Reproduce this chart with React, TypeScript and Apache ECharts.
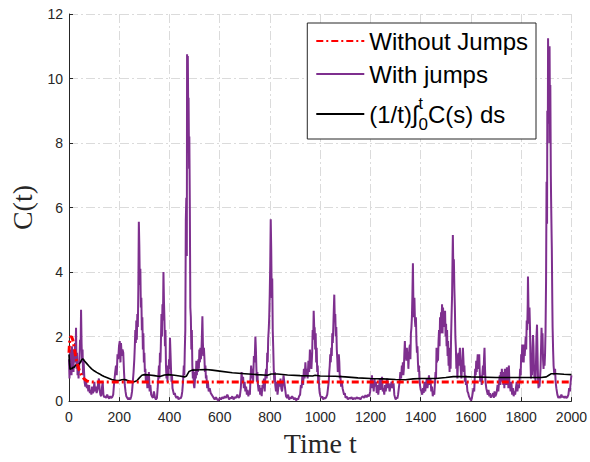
import React, { useEffect, useRef } from 'react';
import * as echarts from 'echarts';

// Time (t) and C(t) pairs
const withJumps: [number, number][] = [
[0,1.3],[2,0.7],[4,1.6],[6,0.9],[8,1.45],[10,0.8],[12,1.7],[14,1.0],[16,1.3],[18,0.9],[20,1.6],[22,1.2],[24,1.8],[26,1.3],[28,2.27],[30,1.0],[32,1.5],[34,0.8],[36,1.1],[38,0.7],[40,1.0],[42,1.4],[44,1.9],[46,1.6],[48,2.83],[50,1.8],[52,1.2],[54,1.6],[56,0.8],[58,1.3],[60,0.9],
[62,0.6],[65,0.45],[68,0.6],[71,0.4],[74,0.5],[77,0.3],[80,0.5],[83,0.25],[86,0.35],[89,0.2],[92,0.45],[95,0.25],[98,0.3],[101,0.6],[104,0.3],[107,0.45],[110,0.25],[113,0.35],[116,0.55],[119,0.7],[122,0.35],[125,0.2],[128,0.15],[131,0.4],[134,0.6],[137,0.2],[140,0.12],[144,0.15],[148,0.1],[152,0.2],[156,0.12],[160,0.08],[164,0.15],[168,0.1],[172,0.12],[176,0.2],[180,0.6],[184,0.9],[187,1.1],[190,0.8],[193,1.45],[196,1.3],[199,1.7],[202,1.86],[205,1.2],[207,1.8],[210,1.4],[213,1.6],[216,1.5],[219,0.9],[222,0.5],[225,0.3],[228,0.15],[232,0.1],[236,0.05],[240,0.1],[244,0.05],[248,0.15],[251,0.3],[254,0.6],[257,0.9],[260,1.3],[262,1.7],[264,2.2],[266,1.8],[268,2.5],[270,1.9],[272,2.7],[274,2.3],[276,3.5],[278,5.56],[280,4.8],[282,3.6],[284,4.1],[286,2.9],[288,3.2],[290,2.2],[292,2.6],[294,1.6],[296,2.1],[298,1.2],[300,1.5],[302,0.9],[304,1.0],[306,0.6],[309,0.8],[312,0.4],[315,0.6],[318,0.9],[321,0.3],[324,0.5],[327,0.2],[330,0.15],[334,0.1],[338,0.3],[342,0.12],[346,0.05],[350,0.1],[353,0.4],[356,0.8],[358,1.1],[360,0.7],[362,1.5],[364,1.2],[366,1.86],[368,2.7],[370,2.0],[372,3.0],[374,2.5],[376,4.0],[378,3.1],[380,2.5],[382,1.7],[384,2.2],[386,1.1],[388,0.7],[390,1.0],[392,0.6],[394,1.1],[396,0.8],[398,1.3],[400,1.0],[402,1.96],[404,1.5],[406,1.0],[408,0.6],[410,0.8],[412,0.4],[415,0.3],[418,0.2],[421,0.25],[424,0.15],[428,0.1],[432,0.15],[436,0.05],[440,0.1],[444,0.08],[448,0.15],[451,0.3],[454,0.6],[457,1.1],[459,0.8],[461,1.6],[463,2.2],[465,5.6],[467,6.3],[469,4.5],[470,10.75],[472,9.0],[473,10.7],[475,8.5],[476,9.4],[478,7.2],[479,8.2],[481,6.0],[483,2.9],[485,2.6],[487,1.6],[489,2.2],[491,1.1],[493,0.7],[495,1.0],[497,0.5],[499,0.4],[501,0.6],[503,0.9],[505,0.7],[507,1.25],[509,0.8],[511,1.1],[513,0.9],[515,1.3],[517,1.0],[519,1.6],[521,1.2],[523,1.65],[525,1.3],[527,1.5],[529,2.0],[531,2.63],[533,1.8],[535,1.4],[537,1.65],[539,1.35],[541,0.9],[543,1.1],[545,0.7],[547,0.8],[550,0.4],[553,0.6],[556,0.3],[560,0.4],[564,0.25],[568,0.2],[572,0.15],[576,0.1],[580,0.05],[585,0.12],[590,0.05],[595,0.02],[600,0.1],[605,0.05],[610,0.12],[615,0.08],[620,0.15],[625,0.1],[630,0.2],[633,0.15],[637,0.05],[641,0.1],[645,0.08],[650,0.15],[655,0.05],[660,0.12],[665,0.1],[670,0.2],[675,0.1],[680,0.15],[684,0.4],[687,0.9],[690,0.6],[693,0.75],[696,0.4],[699,0.6],[702,0.3],[705,0.45],[708,0.2],[711,0.35],[714,0.15],[717,0.3],[720,0.2],[722,0.6],[725,1.1],[728,0.7],[731,1.0],[733,0.6],[736,1.4],[739,1.2],[742,2.0],[744,1.6],[746,1.0],[748,0.6],[750,0.9],[752,0.5],[755,0.3],[758,0.5],[761,0.2],[764,0.4],[767,0.15],[770,0.5],[773,0.4],[776,0.7],[779,0.3],[782,0.8],[785,1.0],[787,0.7],[789,1.5],[791,1.2],[793,1.95],[795,2.2],[797,2.6],[799,3.3],[801,4.2],[803,5.64],[805,4.7],[807,3.2],[809,3.8],[811,2.2],[813,1.65],[815,1.0],[817,0.6],[819,0.9],[821,0.5],[824,0.3],[827,0.6],[830,0.2],[833,0.4],[836,0.6],[839,0.45],[842,0.7],[845,0.4],[848,0.3],[851,0.5],[854,0.8],[857,0.6],[860,0.4],[864,0.15],[868,0.1],[872,0.2],[876,0.05],[880,0.12],[884,0.08],[888,0.15],[892,0.1],[896,0.05],[900,0.1],[904,0.02],[908,0.08],[912,0.05],[916,0.15],[920,0.2],[923,0.5],[926,0.4],[929,0.8],[932,0.5],[935,1.0],[938,0.7],[941,1.2],[944,0.8],[947,1.0],[950,0.7],[953,1.25],[956,0.9],[959,1.6],[962,1.2],[965,1.0],[968,1.5],[970,2.2],[972,1.9],[974,2.8],[976,2.3],[978,2.27],[980,1.6],[982,2.1],[984,1.2],[986,1.65],[988,0.9],[990,1.1],[992,0.6],[994,0.8],[996,0.4],[998,0.25],[1001,0.15],[1004,0.1],[1008,0.15],[1012,0.05],[1016,0.1],[1020,0.08],[1024,0.12],[1028,0.2],[1031,0.4],[1034,0.6],[1036,0.9],[1038,1.1],[1040,1.45],[1042,1.2],[1044,1.65],[1046,1.4],[1048,2.1],[1050,1.8],[1052,2.27],[1054,2.8],[1056,3.3],[1058,2.5],[1060,2.7],[1062,2.0],[1064,2.3],[1066,1.6],[1068,1.3],[1070,0.9],[1072,1.1],[1074,1.45],[1076,1.2],[1078,0.7],[1080,0.8],[1083,0.45],[1086,0.6],[1089,0.4],[1092,0.3],[1095,0.2],[1098,0.25],[1101,0.1],[1105,0.15],
[1110,0.05],[1115,0.1],[1120,0.08],[1125,0.12],[1130,0.05],[1135,0.1],[1140,0.06],[1145,0.12],[1150,0.08],[1155,0.1],[1160,0.05],[1165,0.12],[1170,0.15],[1175,0.1],[1180,0.18],[1185,0.12],[1190,0.2],[1195,0.15],[1199,0.3],[1202,0.7],[1204,0.5],[1206,0.8],[1208,0.4],[1210,0.6],[1213,0.3],[1216,0.7],[1219,0.45],[1222,0.6],[1225,0.25],[1228,0.5],[1231,0.2],[1234,0.4],[1237,0.7],[1240,0.35],[1243,0.55],[1246,0.75],[1249,0.3],[1252,0.4],[1255,0.2],[1258,0.5],[1261,0.3],[1264,0.6],[1267,0.7],[1270,0.4],[1273,0.55],[1276,0.3],[1280,0.45],[1284,0.6],[1288,0.4],[1292,0.55],[1295,0.2],[1298,0.1],[1301,0.05],[1304,0.12],[1307,0.08],[1310,0.2],[1313,0.4],[1316,0.6],[1319,0.9],[1322,0.7],[1325,1.1],[1327,0.8],[1329,1.2],[1331,0.8],[1333,1.0],[1335,1.5],[1337,1.86],[1339,1.3],[1341,1.6],[1343,1.25],[1345,1.65],[1347,1.3],[1349,1.5],[1351,1.0],[1353,1.4],[1355,1.65],[1357,1.75],[1359,1.3],[1361,2.1],[1363,2.27],[1365,2.6],[1367,3.3],[1369,4.27],[1371,3.0],[1373,2.6],[1375,3.2],[1377,2.5],[1379,2.3],[1381,2.6],[1383,1.86],[1385,1.5],[1387,1.7],[1389,1.2],[1391,0.9],[1393,1.1],[1395,0.7],[1397,0.5],[1400,0.35],[1403,0.3],[1406,0.2],[1409,0.4],[1412,0.25],[1415,0.6],[1418,0.3],[1421,0.5],[1424,0.7],[1427,0.4],[1430,0.6],[1433,0.8],[1436,0.5],[1439,0.7],[1442,0.3],[1445,0.45],[1448,0.15],[1451,0.3],[1454,0.2],[1457,0.6],[1459,0.9],[1461,0.7],[1463,1.65],[1465,1.2],[1467,1.6],[1469,1.25],[1471,1.86],[1473,2.2],[1475,1.7],[1477,2.6],[1479,2.1],[1481,2.75],[1483,2.4],[1485,3.0],[1487,2.1],[1489,2.9],[1491,2.3],[1493,2.7],[1495,2.3],[1497,2.8],[1499,2.0],[1501,2.4],[1503,1.7],[1505,2.2],[1507,1.4],[1509,1.86],[1511,1.1],[1513,1.5],[1515,0.9],[1517,1.65],[1519,1.0],[1521,2.0],[1523,2.7],[1525,3.3],[1527,4.6],[1528,5.15],[1530,4.0],[1532,4.4],[1534,3.5],[1536,2.9],[1538,2.0],[1540,1.65],[1542,1.0],[1544,1.45],[1546,0.7],[1548,1.1],[1550,1.5],[1552,1.1],[1554,1.4],[1556,1.65],[1558,1.2],[1560,0.9],[1562,0.7],[1564,1.0],[1566,1.3],[1568,1.65],[1570,1.3],[1572,0.9],[1574,1.1],[1576,0.6],[1578,0.8],[1580,0.5],[1583,0.6],[1586,0.3],[1589,0.25],[1592,0.15],[1595,0.1],[1598,0.05],[1601,0.02],[1604,0.1],[1607,0.25],[1610,0.4],[1613,0.3],[1615,0.7],[1617,1.0],[1619,0.8],[1621,1.25],[1623,0.9],[1625,1.2],[1627,1.45],[1629,1.0],[1631,1.3],[1633,1.45],[1635,0.9],[1637,0.6],[1640,0.8],[1643,0.5],[1646,0.9],[1648,1.1],[1650,0.8],[1652,1.3],[1654,1.65],[1656,1.0],[1658,0.6],[1661,0.4],[1664,0.3],[1667,0.2],[1670,0.35],[1673,0.15],[1676,0.25],[1679,0.1],[1682,0.2],[1685,0.15],[1688,0.25],[1691,0.1],[1694,0.3],[1697,0.15],[1700,0.2],[1703,0.3],[1706,0.5],[1709,0.3],[1712,0.6],[1715,0.8],[1717,0.5],[1719,0.9],[1721,0.6],[1723,1.0],[1725,0.7],[1727,0.9],[1729,0.5],[1731,0.8],[1733,0.4],[1735,1.0],[1737,0.6],[1739,0.8],[1741,0.5],[1743,1.05],[1745,0.6],[1747,0.9],[1749,0.4],[1751,1.1],[1753,0.6],[1755,0.5],[1758,0.3],[1761,0.6],[1764,0.2],[1767,0.4],[1770,0.15],[1773,0.3],[1776,0.2],[1779,0.4],[1782,0.6],[1785,0.3],[1788,0.5],[1791,0.4],[1794,0.7],[1796,1.0],[1798,0.8],[1800,1.45],[1802,1.2],[1804,1.75],[1806,1.4],[1808,1.6],[1810,1.2],[1812,1.75],[1814,1.4],[1816,1.7],[1818,2.0],[1820,1.6],[1822,2.5],[1824,2.2],[1826,3.0],[1827,3.86],[1829,2.9],[1831,2.4],[1833,2.9],[1835,2.3],[1837,1.25],[1839,0.7],[1841,1.0],[1843,0.8],[1845,1.65],[1847,2.05],[1849,1.7],[1851,1.0],[1853,0.7],[1855,0.9],[1857,0.6],[1859,1.2],[1861,2.0],[1863,2.37],[1865,1.5],[1867,0.7],[1869,0.4],[1871,0.6],[1873,0.45],[1875,0.7],[1877,1.0],[1879,1.6],[1881,2.27],[1883,1.8],[1885,2.1],[1887,1.3],[1889,1.0],[1891,1.45],[1893,1.1],[1895,1.45],[1897,2.2],[1899,3.7],[1901,6.8],[1903,5.5],[1904,9.0],[1906,8.0],[1907,11.25],[1909,9.0],[1910,10.2],[1912,8.6],[1913,11.0],[1915,8.0],[1916,9.8],[1918,7.0],[1919,6.3],[1921,5.2],[1922,4.7],[1924,3.0],[1925,2.3],[1927,1.6],[1929,1.1],[1932,0.8],[1935,1.0],[1937,0.6],[1940,0.4],[1944,0.2],[1948,0.1],[1952,0.15],[1956,0.1],[1960,0.2],[1964,0.12],[1968,0.15],[1972,0.1],[1976,0.15],[1980,0.1],[1984,0.12],[1988,0.2],[1991,0.4],[1994,0.3],[1997,0.6],[2000,0.8]
];

const withoutJumps: [number, number][] = [
[0,1.5],[2,1.8],[5,1.98],[10,2.0],[15,1.9],[20,1.7],[25,1.45],[30,1.25],[35,1.1],[40,0.98],[45,0.88],[50,0.8],[55,0.74],[60,0.69],[70,0.63],[80,0.6],[100,0.59],[2000,0.59]
];

const runningMean: [number, number][] = [
[0,1.45],[2,1.2],[4,0.98],[8,1.02],[12,1.0],[16,1.05],[20,1.04],[25,1.1],[30,1.13],[35,1.1],[40,1.15],[45,1.2],[50,1.28],[55,1.31],[60,1.26],[70,1.17],[80,1.08],[90,1.0],[100,0.94],[110,0.89],[120,0.85],[130,0.8],[140,0.76],[150,0.73],[160,0.7],[170,0.67],[180,0.65],[190,0.64],[200,0.64],[210,0.66],[220,0.67],[230,0.65],[240,0.62],[250,0.6],[260,0.6],[270,0.63],[280,0.72],[290,0.8],[300,0.82],[320,0.81],[340,0.79],[355,0.77],[365,0.77],[380,0.81],[395,0.82],[420,0.8],[440,0.78],[460,0.75],[468,0.78],[478,0.92],[490,0.96],[520,0.97],[545,0.98],[570,0.96],[600,0.93],[650,0.88],[700,0.85],[750,0.82],[790,0.8],[805,0.84],[830,0.84],[870,0.81],[920,0.79],[970,0.78],[980,0.8],[1000,0.78],[1060,0.77],[1100,0.75],[1150,0.72],[1200,0.7],[1250,0.69],[1300,0.67],[1340,0.66],[1370,0.69],[1400,0.7],[1460,0.7],[1500,0.73],[1530,0.76],[1560,0.76],[1600,0.75],[1700,0.73],[1800,0.73],[1880,0.73],[1900,0.75],[1910,0.8],[1920,0.85],[1940,0.85],[1970,0.83],[2000,0.82]
];

const seriesNames = ['Without Jumps', 'With jumps', '(1/t)∫C(s) ds'];

const AXIS_COLOR = '#262626';
const GRID_DASH = [9, 3, 2, 3];

export default function App() {
  const ref = useRef<HTMLDivElement>(null);
  useEffect(() => {
    const chart = echarts.init(ref.current!, null, { renderer: 'svg' });
    chart.setOption({
      animation: false,
      backgroundColor: '#ffffff',
      grid: { left: 69, right: 18, top: 14, bottom: 58.5, containLabel: false },
      legend: {
        orient: 'vertical',
        right: 54,
        top: 23,
        data: seriesNames,
        padding: [6, 8, 6, 8],
        itemGap: 9,
        itemWidth: 48,
        itemHeight: 12,
        borderColor: AXIS_COLOR,
        borderWidth: 1,
        borderRadius: 0,
        backgroundColor: '#ffffff',
        itemStyle: { color: 'rgba(0,0,0,0)', borderWidth: 0, opacity: 0 },
        textStyle: {
          fontFamily: 'Liberation Sans, Arial, sans-serif',
          fontSize: 24,
          color: '#000',
          rich: {
            intg: { fontFamily: 'Liberation Sans, Arial, sans-serif', fontSize: 24, color: '#000' },
            sup: { fontFamily: 'Liberation Sans, Arial, sans-serif', fontSize: 16, color: '#000', verticalAlign: 'top', lineHeight: 38, width: 0 },
            sub: { fontFamily: 'Liberation Sans, Arial, sans-serif', fontSize: 17, color: '#000', verticalAlign: 'bottom', lineHeight: 38 },
          },
        },
        formatter: (name: string) =>
          name === seriesNames[2] ? '(1/t){intg|∫}{sup|t}{sub|0}C(s) ds' : name,
      },
      xAxis: {
        type: 'value',
        min: 0,
        max: 2000,
        interval: 200,
        name: 'Time t',
        nameLocation: 'middle',
        nameGap: 24,
        nameTextStyle: { fontFamily: 'Liberation Serif, Times New Roman, serif', fontSize: 28, color: AXIS_COLOR },
        axisLine: { show: true, lineStyle: { color: AXIS_COLOR, width: 1 } },
        axisTick: { show: true, inside: true, length: 4, lineStyle: { color: AXIS_COLOR } },
        axisLabel: {
          margin: 9,
          fontFamily: 'Liberation Sans, Arial, sans-serif',
          fontSize: 14,
          color: AXIS_COLOR,
          formatter: (v: number) => String(v),
        },
        splitLine: { show: true, lineStyle: { color: '#dbdbdb', width: 1, type: GRID_DASH } },
      },
      yAxis: {
        type: 'value',
        min: 0,
        max: 12,
        interval: 2,
        name: 'C(t)',
        nameLocation: 'middle',
        nameGap: 31,
        nameTextStyle: { fontFamily: 'Liberation Serif, Times New Roman, serif', fontSize: 28, color: AXIS_COLOR },
        axisLine: { show: true, lineStyle: { color: AXIS_COLOR, width: 1 } },
        axisTick: { show: true, inside: true, length: 4, lineStyle: { color: AXIS_COLOR } },
        axisLabel: {
          margin: 6,
          fontFamily: 'Liberation Sans, Arial, sans-serif',
          fontSize: 14,
          color: AXIS_COLOR,
          formatter: (v: number) => String(v),
        },
        splitLine: { show: true, lineStyle: { color: '#dbdbdb', width: 1, type: GRID_DASH } },
      },
      series: [
        {
          name: seriesNames[1],
          type: 'line',
          data: withJumps,
          symbol: 'none',
          showSymbol: false,
          lineStyle: { color: '#7E2F8E', width: 2 },
          itemStyle: { color: '#7E2F8E' },
          z: 2,
        },
        {
          name: seriesNames[2],
          type: 'line',
          data: runningMean,
          symbol: 'none',
          showSymbol: false,
          lineStyle: { color: '#000000', width: 1.6 },
          itemStyle: { color: '#000000' },
          z: 3,
        },
        {
          name: seriesNames[0],
          type: 'line',
          data: withoutJumps,
          symbol: 'none',
          showSymbol: false,
          lineStyle: { color: '#FF0000', width: 3, type: [7, 3, 2, 3] },
          itemStyle: { color: '#FF0000' },
          z: 4,
        },
      ],
    });
    return () => chart.dispose();
  }, []);
  return (
    <div
      ref={ref}
      style={{ position: 'absolute', left: 0, top: 0, width: 590, height: 462, background: '#fff' }}
    />
  );
}
